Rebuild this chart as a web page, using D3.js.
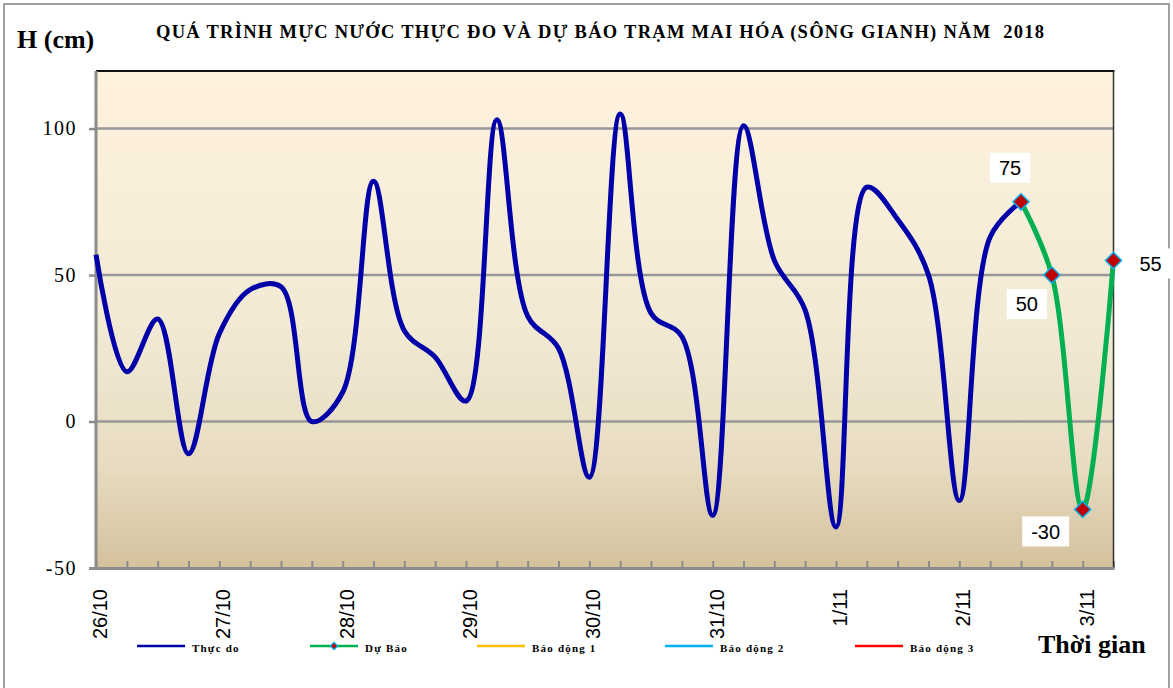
<!DOCTYPE html>
<html>
<head>
<meta charset="utf-8">
<script src="https://cdn.jsdelivr.net/npm/d3@7"></script>
<style>
  body { margin: 0; background: #fff; }
  svg { display: block; }
  text { white-space: pre; }
</style>
</head>
<body>
<div class="chart"></div>
<script>
// hours counted from 26/10 00h
var observedHours = [0, 6, 12, 18, 24, 30, 36, 42, 48, 54, 60, 66, 72, 78, 84, 90, 96,
    102, 108, 114, 120, 126, 132, 138, 144, 150, 156, 162, 168, 174, 180];
var observedLevel = [57, 17, 35, -11, 30, 45, 46, 0, 10, 82, 31, 22, 7, 103, 36, 25, -19,
    105, 37, 29, -32, 101, 55, 38, -36, 80, 69, 50, -27, 63, 75];

var forecastHours = [180, 186, 192, 198];
var forecastLevel = [75, 50, -30, 55];

var dayHours = [0, 24, 48, 72, 96, 120, 144, 168, 192];
var dayLabels = ['26/10', '27/10', '28/10', '29/10', '30/10', '31/10', '1/11', '2/11', '3/11'];
var yTicks = [-50, 0, 50, 100];

var legendNames = ['Thực do', 'Dự Báo', 'Báo động 1', 'Báo động 2', 'Báo động 3'];
var legendColors = ['#0000a8', '#00b050', '#ffc000', '#00b0f0', '#ff0000'];

var width = 1173, height = 688;
var plotLeft = 96, plotRight = 1113.5, plotTop = 71, plotBottom = 568;

var svg = d3.select('.chart').append('svg')
    .attr('width', width)
    .attr('height', height);

var x = d3.scaleLinear().domain([0, 198]).range([plotLeft, plotRight]);
var y = d3.scaleLinear().domain([-50, 120]).range([plotBottom, 70]);

// outer frame
svg.append('rect')
    .attr('x', 4).attr('y', 4)
    .attr('width', 1165).attr('height', 700)
    .attr('fill', '#fff')
    .attr('stroke', '#a0a0a0')
    .attr('stroke-width', 2);

// plot background
var grad = svg.append('defs').append('linearGradient')
    .attr('id', 'bg').attr('x1', 0).attr('y1', 0).attr('x2', 0).attr('y2', 1);
grad.append('stop').attr('offset', '0%').attr('stop-color', '#fff2df');
grad.append('stop').attr('offset', '50%').attr('stop-color', '#f2ead5');
grad.append('stop').attr('offset', '78%').attr('stop-color', '#e8ddc3');
grad.append('stop').attr('offset', '100%').attr('stop-color', '#d4c19d');

svg.append('rect')
    .attr('x', plotLeft).attr('y', plotTop)
    .attr('width', plotRight - plotLeft).attr('height', plotBottom - plotTop)
    .attr('fill', 'url(#bg)');

// gridlines
svg.selectAll('.grid')
    .data(yTicks.filter(function(d) { return d > -50; }))
    .enter().append('line')
    .attr('class', 'grid')
    .attr('x1', plotLeft).attr('x2', plotRight)
    .attr('y1', function(d) { return y(d); })
    .attr('y2', function(d) { return y(d); })
    .attr('stroke', '#979797')
    .attr('stroke-width', 2.5);

// y axis
var yAxis = svg.append('g')
    .attr('transform', 'translate(' + plotLeft + ',0)')
    .call(d3.axisLeft(y).tickValues(yTicks).tickSize(7).tickPadding(12).tickFormat(String));
yAxis.select('.domain').remove();
yAxis.selectAll('.tick line').attr('stroke', '#8c8c8c').attr('stroke-width', 2.5);
yAxis.selectAll('.tick text')
    .attr('font-family', '"Liberation Serif", "Times New Roman", serif')
    .attr('font-size', 20)
    .attr('letter-spacing', 1.5)
    .attr('fill', '#000');

// x axis small ticks every 6h, pointing up into the plot
var xAxis = svg.append('g')
    .attr('transform', 'translate(0,' + plotBottom + ')')
    .call(d3.axisTop(x).tickValues(d3.range(0, 199, 6)).tickSize(7).tickFormat(''));
xAxis.select('.domain').remove();
xAxis.selectAll('.tick line').attr('stroke', '#8c8c8c').attr('stroke-width', 2);

// plot frame
svg.append('line')
    .attr('x1', plotLeft).attr('x2', plotRight + 1)
    .attr('y1', plotTop).attr('y2', plotTop)
    .attr('stroke', '#111').attr('stroke-width', 2);
svg.append('line')
    .attr('x1', plotRight).attr('x2', plotRight)
    .attr('y1', plotTop).attr('y2', plotBottom + 1)
    .attr('stroke', '#333').attr('stroke-width', 1.5);
svg.append('line')
    .attr('x1', plotLeft).attr('x2', plotLeft)
    .attr('y1', plotTop).attr('y2', plotBottom + 2)
    .attr('stroke', '#8c8c8c').attr('stroke-width', 3);
svg.append('line')
    .attr('x1', plotLeft - 7).attr('x2', plotRight + 1)
    .attr('y1', plotBottom + 0.5).attr('y2', plotBottom + 0.5)
    .attr('stroke', '#8c8c8c').attr('stroke-width', 3);

// day labels
svg.selectAll('.day')
    .data(dayHours)
    .enter().append('text')
    .attr('class', 'day')
    .attr('transform', function(d) { return 'translate(' + x(d) + ',589) rotate(-90)'; })
    .attr('text-anchor', 'end')
    .attr('dy', '0.55em')
    .attr('font-family', '"Liberation Sans", Arial, sans-serif')
    .attr('font-size', 20)
    .text(function(d, i) { return dayLabels[i]; });

// series
var line = d3.line()
    .x(function(d) { return x(d[0]); })
    .y(function(d) { return y(d[1]); })
    .curve(d3.curveCatmullRom.alpha(0.5));

var observed = observedHours.map(function(h, i) { return [h, observedLevel[i]]; });
var forecast = forecastHours.map(function(h, i) { return [h, forecastLevel[i]]; });

svg.append('path')
    .datum(observed)
    .attr('d', line)
    .attr('fill', 'none')
    .attr('stroke', legendColors[0])
    .attr('stroke-width', 5)
    .attr('stroke-linejoin', 'round');

svg.append('path')
    .datum(forecast)
    .attr('d', line)
    .attr('fill', 'none')
    .attr('stroke', legendColors[1])
    .attr('stroke-width', 5)
    .attr('stroke-linejoin', 'round');

var diamond = d3.symbol().type(d3.symbolSquare).size(130);

svg.selectAll('.marker')
    .data(forecast)
    .enter().append('path')
    .attr('class', 'marker')
    .attr('d', diamond)
    .attr('transform', function(d) { return 'translate(' + x(d[0]) + ',' + y(d[1]) + ') rotate(45)'; })
    .attr('fill', '#c00000')
    .attr('stroke', '#00b0f0')
    .attr('stroke-width', 1.5);

// data labels (offset of label centre from its point)
var labelOffsets = [[-11, -34], [-25, 29], [-37, 22], [37, 3]];

var labels = svg.selectAll('.dlabel')
    .data(forecast)
    .enter().append('g')
    .attr('class', 'dlabel')
    .attr('transform', function(d, i) {
        return 'translate(' + (x(d[0]) + labelOffsets[i][0]) + ',' + (y(d[1]) + labelOffsets[i][1]) + ')';
    });
labels.append('rect');
labels.append('text')
    .attr('text-anchor', 'middle')
    .attr('dy', '0.36em')
    .attr('font-family', '"Liberation Sans", Arial, sans-serif')
    .attr('font-size', 20)
    .text(function(d) { return d[1]; });
labels.each(function() {
    var g = d3.select(this);
    var b = g.select('text').node().getBBox();
    g.select('rect')
        .attr('x', b.x - 9).attr('y', -15)
        .attr('width', b.width + 18).attr('height', 30)
        .attr('fill', '#fff');
});

// titles
svg.append('text')
    .attr('x', 17).attr('y', 48)
    .attr('font-family', '"Liberation Serif", "Times New Roman", serif')
    .attr('font-weight', 'bold')
    .attr('font-size', 26)
    .text('H (cm)');

svg.append('text')
    .attr('x', 156).attr('y', 38)
    .attr('font-family', '"Liberation Serif", "Times New Roman", serif')
    .attr('font-weight', 'bold')
    .attr('font-size', 18.5)
    .attr('textLength', 888)
    .attr('lengthAdjust', 'spacing')
    .text('QUÁ TRÌNH MỰC NƯỚC THỰC ĐO VÀ DỰ BÁO TRẠM MAI HÓA (SÔNG GIANH) NĂM  2018');

svg.append('text')
    .attr('x', 1038).attr('y', 653)
    .attr('font-family', '"Liberation Serif", "Times New Roman", serif')
    .attr('font-weight', 'bold')
    .attr('font-size', 26)
    .text('Thời gian');

// legend
var legendX = [137, 310, 477, 665, 855];
var legend = svg.selectAll('.legend')
    .data(legendNames)
    .enter().append('g')
    .attr('class', 'legend')
    .attr('transform', function(d, i) { return 'translate(' + legendX[i] + ',646)'; });
legend.append('line')
    .attr('x1', 0).attr('x2', 48)
    .attr('stroke', function(d, i) { return legendColors[i]; })
    .attr('stroke-width', 2.5);
legend.filter(function(d, i) { return i === 1; })
    .append('path')
    .attr('d', d3.symbol().type(d3.symbolSquare).size(26))
    .attr('transform', 'translate(24,0) rotate(45)')
    .attr('fill', '#c00000')
    .attr('stroke', '#00b0f0')
    .attr('stroke-width', 1.2);
legend.append('text')
    .attr('x', 55).attr('y', 6)
    .attr('font-family', '"Liberation Serif", "Times New Roman", serif')
    .attr('font-weight', 'bold')
    .attr('font-size', 11)
    .attr('letter-spacing', 1.2)
    .text(function(d) { return d; });
</script>
</body>
</html>
